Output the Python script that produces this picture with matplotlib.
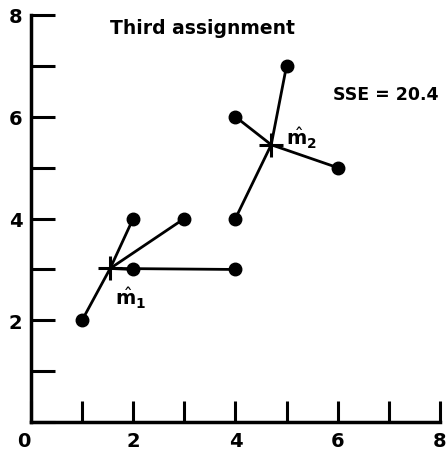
import numpy as np
import matplotlib.pyplot as plt

# data points and cluster assignment
pts_x = [1, 2, 3, 2, 4, 4, 4, 5, 6]
pts_y = [2, 4, 4, 3, 3, 4, 6, 7, 5]
cluster = [0, 0, 0, 0, 0, 1, 1, 1, 1]

# centroids as drawn
cent_x = [1.55, 4.7]
cent_y = [3.02, 5.45]
cent_lbl = [r'$\hat{\mathbf{m}}_\mathbf{1}$', r'$\hat{\mathbf{m}}_\mathbf{2}$']
lbl_x = [1.95, 5.3]
lbl_y = [2.45, 5.6]

title = 'Third assignment'
sse_text = 'SSE = 20.4'

fig = plt.figure(figsize=(4.48, 4.56), dpi=100)
ax = fig.add_axes([0.069, 0.072, 0.913, 0.893])

for i in range(len(pts_x)):
    c = cluster[i]
    ax.plot([cent_x[c], pts_x[i]], [cent_y[c], pts_y[i]], color='black', lw=2, zorder=1)

ax.plot(pts_x, pts_y, 'o', color='black', ms=9, zorder=3)
ax.plot(cent_x, cent_y, '+', color='black', ms=17, mew=2.2, zorder=4)

for k in range(len(cent_x)):
    ax.text(lbl_x[k], lbl_y[k], cent_lbl[k], fontsize=14,
            ha='center', va='center')

ax.text(3.35, 7.75, title, fontsize=13.5, fontweight='bold', ha='center', va='center')
ax.text(7.97, 6.45, sse_text, fontsize=12.5, fontweight='bold', ha='right', va='center')

ax.set_xlim(0, 8)
ax.set_ylim(0, 8)
ax.spines['top'].set_visible(False)
ax.spines['right'].set_visible(False)
ax.spines['left'].set_linewidth(2.5)
ax.spines['bottom'].set_linewidth(2.5)
ax.set_xticks(np.arange(0, 9, 1))
ax.set_yticks(np.arange(0, 9, 1))
ax.set_xticklabels(['0', '', '2', '', '4', '', '6', '', '8'])
ax.set_yticklabels(['', '', '2', '', '4', '', '6', '', '8'])
ax.tick_params(direction='in', length=15, width=2.2, labelsize=14, pad=6)
ax.tick_params(axis='y', length=17)
for t in ax.get_xticklabels() + ax.get_yticklabels():
    t.set_fontweight('bold')
ax.get_xticklabels()[0].set_horizontalalignment('right')
ax.patch.set_visible(False)

fig.savefig('out.png', dpi=100)
